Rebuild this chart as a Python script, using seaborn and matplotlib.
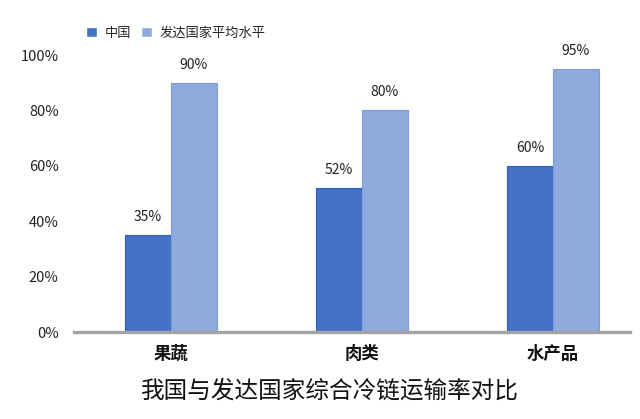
import matplotlib
matplotlib.use("Agg")
import matplotlib.pyplot as plt
import seaborn as sns
import pandas as pd

categories = ["果蔬", "肉类", "水产品"]
series_names = ["中国", "发达国家平均水平"]
china = [35, 52, 60]
developed = [90, 80, 95]
yticks = [0, 20, 40, 60, 80, 100]
ytick_labels = ["0%", "20%", "40%", "60%", "80%", "100%"]
title = "我国与发达国家综合冷链运输率对比"

sns.set_theme(style="white")
plt.rcParams['font.family'] = ['Noto Sans CJK SC', 'DejaVu Sans']

df = pd.DataFrame({
    "cat": categories * 2,
    "series": [series_names[0]] * 3 + [series_names[1]] * 3,
    "val": china + developed,
})

fig = plt.figure(figsize=(6.4, 4.19), dpi=100)
ax = fig.add_axes([74/640, 87/419, 556/640, 277/419])

palette = {series_names[0]: "#4472C4", series_names[1]: "#8FAADC"}
sns.barplot(data=df, x="cat", y="val", hue="series", palette=palette,
            width=0.48, ax=ax, saturation=1, legend=True)

edge = {0: "#2E5DBF", 1: "#7C9BD8"}
for i, cont in enumerate(ax.containers):
    for p in cont.patches:
        p.set_edgecolor(edge[i])
        p.set_linewidth(0.8)
    vals = china if i == 0 else developed
    ax.bar_label(cont, labels=[f"{v}%" for v in vals], padding=8,
                 fontsize=10, color="#222222")

ax.set_xlim(-0.508, 2.403)
ax.set_ylim(0, 100)
ax.set_yticks(yticks)
ax.set_yticklabels(ytick_labels, fontsize=10.5, color="#222222")
ax.tick_params(axis="y", length=0, pad=11)
ax.tick_params(axis="x", length=0, pad=9)
for lbl in ax.get_xticklabels():
    lbl.set_fontsize(12.5)
    lbl.set_fontweight("bold")
    lbl.set_color("#111111")
ax.set_xlabel("")
ax.set_ylabel("")
for s in ["top", "right", "left"]:
    ax.spines[s].set_visible(False)
ax.spines["bottom"].set_color("#A3A3A3")
ax.spines["bottom"].set_linewidth(2.4)

handles, labels = ax.get_legend_handles_labels()
ax.get_legend().remove()
fig.legend(handles, labels, loc="center left", bbox_to_anchor=(86/640, 1 - 33/419),
           ncol=2, frameon=False, fontsize=9.5, handlelength=0.85, handleheight=0.85,
           handletextpad=0.6, columnspacing=0.7, borderpad=0, borderaxespad=0)

fig.text(330/640, 1 - 391/419, title, ha="center", va="center", fontsize=17,
         color="#111111")

fig.savefig("out.png", dpi=100)
